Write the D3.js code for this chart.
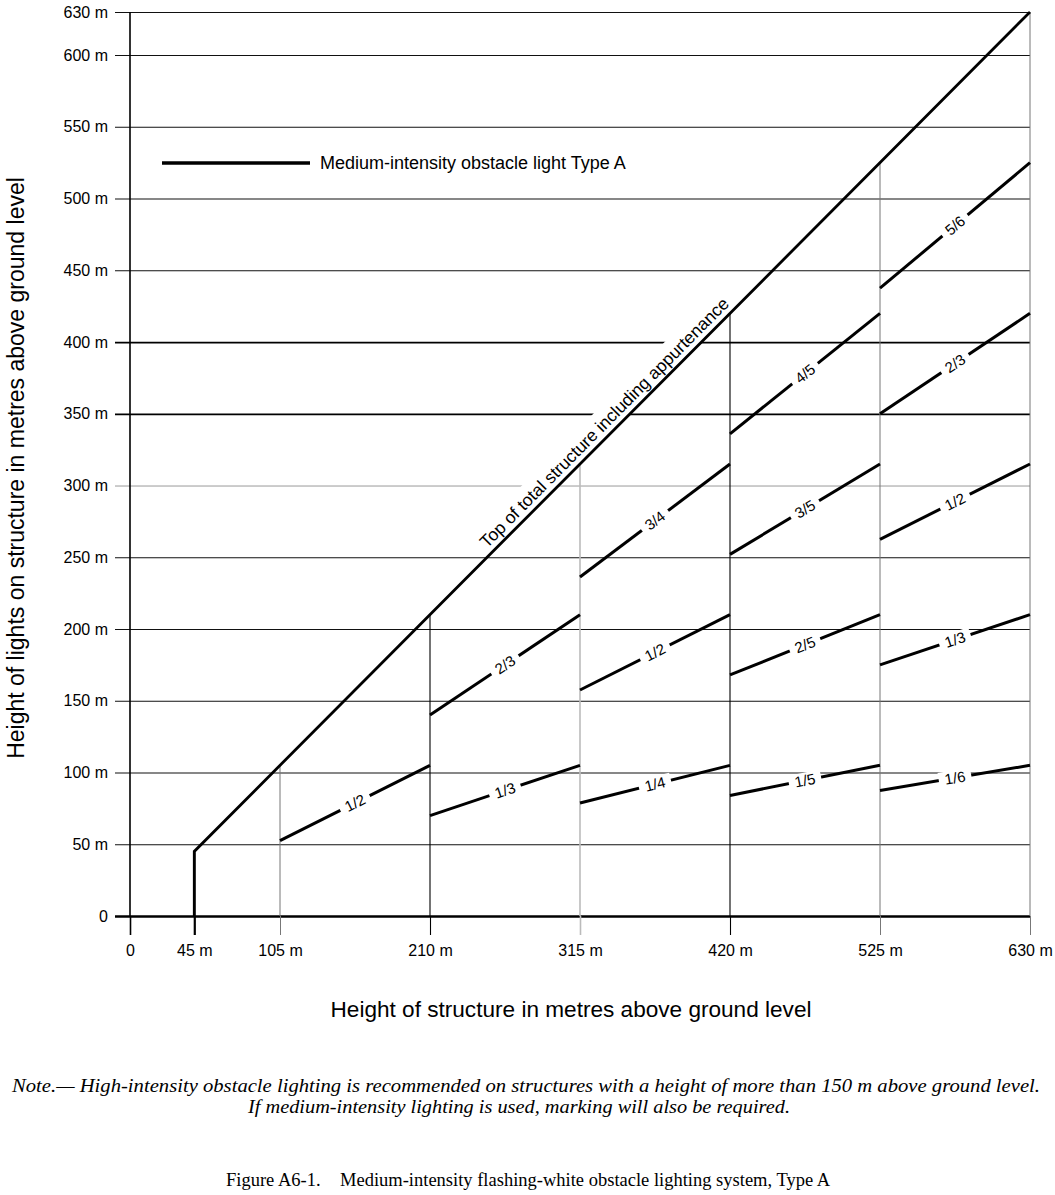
<!DOCTYPE html>
<html>
<head>
<meta charset="utf-8">
<script src="https://cdn.jsdelivr.net/npm/d3@7"></script>
<style>
  body { margin: 0; background: #fff; }
  svg { display: block; }
  .tick text { font-family: "Liberation Sans", Arial, sans-serif; font-size: 16px; fill: #000; }
</style>
</head>
<body>
<script>
// ticks
const xTicks = [0, 45, 105, 210, 315, 420, 525, 630]
const yTicks = [0, 50, 100, 150, 200, 250, 300, 350, 400, 450, 500, 550, 600, 630]

// vertical dividers: structure height and how high they go
const dividerX = [45, 105, 210, 315, 420, 525, 630]
const dividerTop = [45, 105, 210, 315, 420, 525, 630]

// top of total structure line
const topX = [45, 45, 630]
const topY = [0, 45, 630]

// light level segments (structure height from..to, light height from..to)
const segX0 = [105, 210, 210, 315, 315, 315, 420, 420, 420, 420, 525, 525, 525, 525, 525]
const segX1 = [210, 315, 315, 420, 420, 420, 525, 525, 525, 525, 630, 630, 630, 630, 630]
const segY0 = [52.5, 70, 140, 78.75, 157.5, 236.25, 84, 168, 252, 336, 87.5, 175, 262.5, 350, 437.5]
const segY1 = [105, 105, 210, 105, 210, 315, 105, 210, 315, 420, 105, 210, 315, 420, 525]
const segLabel = ['1/2', '1/3', '2/3', '1/4', '1/2', '3/4', '1/5', '2/5', '3/5', '4/5', '1/6', '1/3', '1/2', '2/3', '5/6']

const sans = '"Liberation Sans", Arial, sans-serif'
const serif = '"Liberation Serif", "Times New Roman", serif'

const svg = d3.select('body').append('svg')
  .attr('width', 1055)
  .attr('height', 1195)

const x = d3.scaleLinear().domain([0, 630]).range([130, 1030])
const y = d3.scaleLinear().domain([0, 630]).range([916, 12])

// horizontal grid + y labels
function gridStyle(v) {
  if (v === 0) return {w: 2.6, c: '#000'}
  if (v === 350 || v === 400) return {w: 1.7, c: '#000'}
  if (v === 300) return {w: 1, c: '#999'}
  return {w: 1.1, c: '#111'}
}

let yAxis = svg.append('g')
  .attr('transform', 'translate(115,0)')
  .call(d3.axisLeft(y)
    .tickValues(yTicks)
    .tickSize(-(1030 - 115))
    .tickPadding(7)
    .tickFormat(d => d === 0 ? '0' : d + ' m'))
yAxis.select('.domain').remove()
yAxis.selectAll('.tick line')
  .attr('stroke', d => gridStyle(d).c)
  .attr('stroke-width', d => gridStyle(d).w)

// x axis ticks below zero line
function vStyle(v) {
  if (v === 0) return {w: 1.6, c: '#000'}
  if (v === 45) return {w: 2.2, c: '#000'}
  if (v === 210 || v === 420) return {w: 1.1, c: '#000'}
  if (v === 315) return {w: 1.6, c: '#bbb'}
  return {w: 1, c: '#777'}
}

let xAxis = svg.append('g')
  .attr('transform', 'translate(0,916)')
  .call(d3.axisBottom(x)
    .tickValues(xTicks)
    .tickSize(19)
    .tickPadding(10)
    .tickFormat(d => d === 0 ? '0' : d + ' m'))
xAxis.select('.domain').remove()
xAxis.selectAll('.tick line')
  .attr('stroke', d => vStyle(d).c)
  .attr('stroke-width', d => vStyle(d).w)

// y axis line
svg.append('line')
  .attr('x1', x(0)).attr('x2', x(0))
  .attr('y1', y(630)).attr('y2', y(0))
  .attr('stroke', '#000').attr('stroke-width', 1.6)

// dividers
svg.selectAll('.divider')
  .data(dividerX)
  .enter().append('line')
  .attr('class', 'divider')
  .attr('x1', d => x(d)).attr('x2', d => x(d))
  .attr('y1', y(0))
  .attr('y2', (d, i) => y(dividerTop[i]))
  .attr('stroke', d => vStyle(d).c)
  .attr('stroke-width', d => vStyle(d).w)

// label along the top line (white box cuts grid lines)
let ang = Math.atan2(y(630) - y(45), x(630) - x(45)) * 180 / Math.PI
let topLabel = svg.append('g')
  .attr('transform', `translate(${x(338)},${y(338)}) rotate(${ang})`)
let topBg = topLabel.append('rect').attr('fill', '#fff')
let topText = topLabel.append('text')
  .attr('text-anchor', 'middle')
  .attr('y', -6)
  .style('font-family', sans)
  .style('font-size', '17.5px')
  .text('Top of total structure including appurtenance')
let tb = topText.node().getBBox()
topBg.attr('x', tb.x - 6).attr('y', -26).attr('width', tb.width + 12).attr('height', 26)

let line = d3.line()
  .x(d => x(d[0]))
  .y(d => y(d[1]))

svg.append('path')
  .attr('d', line(topX.map((v, i) => [v, topY[i]])))
  .attr('fill', 'none')
  .attr('stroke', '#000')
  .attr('stroke-width', 2.8)

// light segments
segLabel.forEach((lab, i) => {
  svg.append('line')
    .attr('x1', x(segX0[i])).attr('y1', y(segY0[i]))
    .attr('x2', x(segX1[i])).attr('y2', y(segY1[i]))
    .attr('stroke', '#000')
    .attr('stroke-width', 3)
})

segLabel.forEach((lab, i) => {
  let mx = (segX0[i] + segX1[i]) / 2
  let my = (segY0[i] + segY1[i]) / 2
  let a = Math.atan2(y(segY1[i]) - y(segY0[i]), x(segX1[i]) - x(segX0[i])) * 180 / Math.PI
  let g = svg.append('g')
    .attr('transform', `translate(${x(mx)},${y(my)}) rotate(${a})`)
  let bg = g.append('rect').attr('fill', '#fff')
  let t = g.append('text')
    .attr('text-anchor', 'middle')
    .attr('dy', '0.35em')
    .style('font-family', sans)
    .style('font-size', '15px')
    .text(lab)
  let b = t.node().getBBox()
  bg.attr('x', b.x - 6).attr('y', b.y + 1).attr('width', b.width + 12).attr('height', b.height - 2)
})

// legend
svg.append('line')
  .attr('x1', 162).attr('x2', 310)
  .attr('y1', 163).attr('y2', 163)
  .attr('stroke', '#000').attr('stroke-width', 3.5)
svg.append('text')
  .attr('x', 320).attr('y', 163)
  .attr('dy', '0.35em')
  .style('font-family', sans)
  .style('font-size', '18px')
  .text('Medium-intensity obstacle light Type A')

// axis titles
svg.append('text')
  .attr('transform', 'translate(24,468) rotate(-90)')
  .attr('text-anchor', 'middle')
  .style('font-family', sans)
  .style('font-size', '23px')
  .text('Height of lights on structure in metres above ground level')

svg.append('text')
  .attr('x', 571).attr('y', 1017)
  .attr('text-anchor', 'middle')
  .style('font-family', sans)
  .style('font-size', '22.6px')
  .text('Height of structure in metres above ground level')

// note + caption
svg.append('text')
  .attr('x', 526).attr('y', 1092)
  .attr('text-anchor', 'middle')
  .attr('textLength', 1028)
  .attr('lengthAdjust', 'spacingAndGlyphs')
  .style('font-family', serif)
  .style('font-style', 'italic')
  .style('font-size', '18.5px')
  .text('Note.— High-intensity obstacle lighting is recommended on structures with a height of more than 150 m above ground level.')
svg.append('text')
  .attr('x', 519).attr('y', 1113)
  .attr('text-anchor', 'middle')
  .attr('textLength', 542)
  .attr('lengthAdjust', 'spacingAndGlyphs')
  .style('font-family', serif)
  .style('font-style', 'italic')
  .style('font-size', '18.5px')
  .text('If medium-intensity lighting is used, marking will also be required.')

let cap = svg.append('text')
  .attr('y', 1186)
  .style('font-family', serif)
  .style('font-size', '18.5px')
cap.append('tspan').attr('x', 226).text('Figure A6-1.')
cap.append('tspan').attr('x', 340).text('Medium-intensity flashing-white obstacle lighting system, Type A')
</script>
</body>
</html>
